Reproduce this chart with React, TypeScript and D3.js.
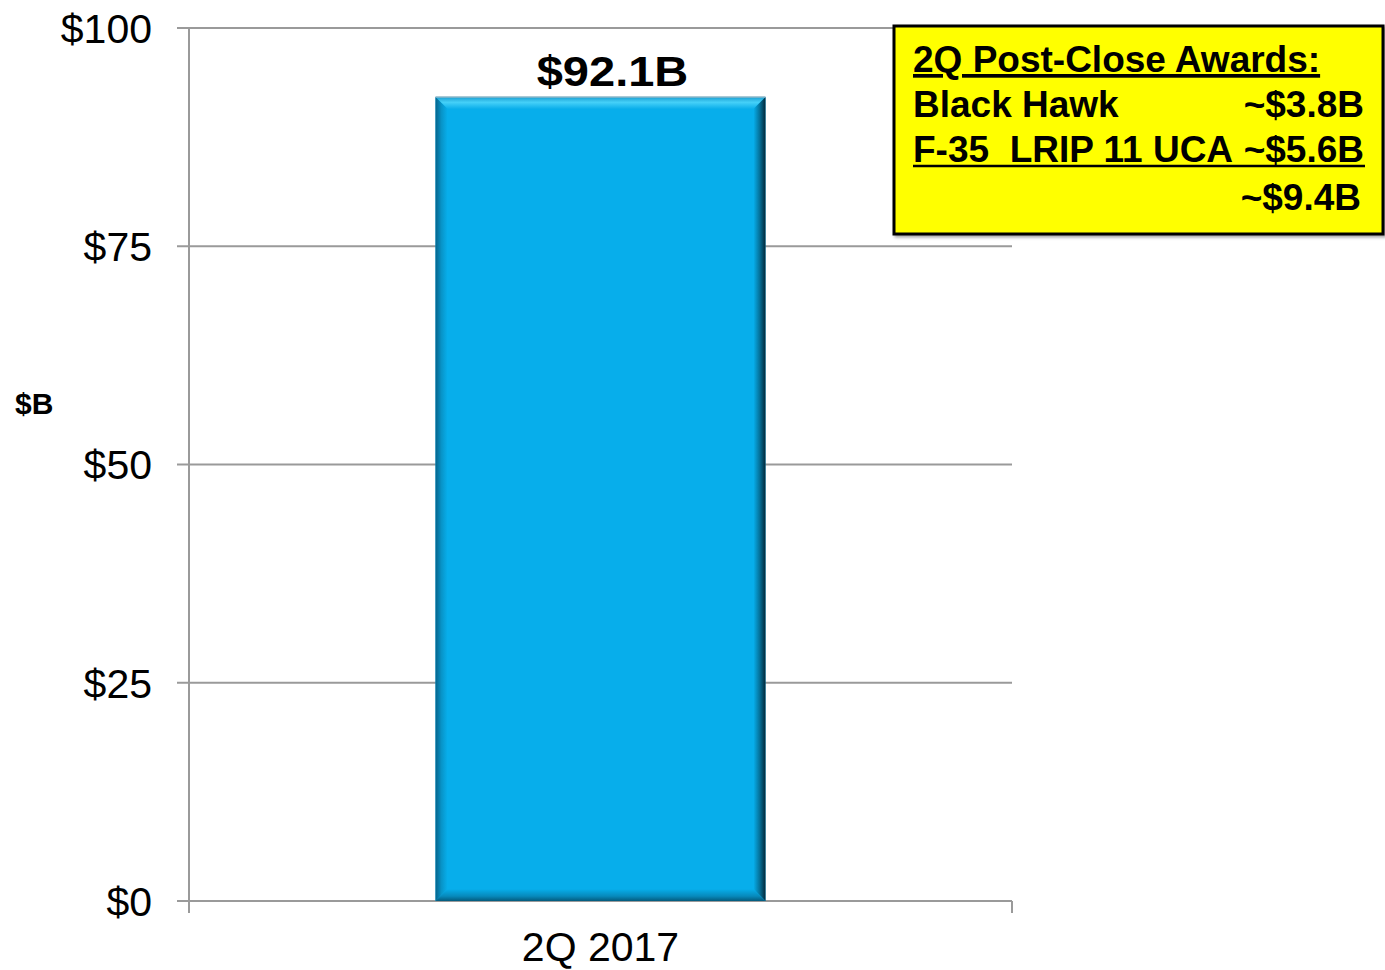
import React from "react";
import * as d3 from "d3";

const categories = ["2Q 2017"];
const values = [92.1];
const barLabels = ["$92.1B"];
const yTicks = [0, 25, 50, 75, 100];
const yTickLabels = ["$0", "$25", "$50", "$75", "$100"];
const boxTitle = "2Q Post-Close Awards:";
const boxItems = ["Black Hawk", "F-35  LRIP 11 UCA"];
const boxValues = ["~$3.8B", "~$5.6B"];
const boxTotal = "~$9.4B";

const W = 1385, H = 970;
const FONT = "'Liberation Sans', Arial, Helvetica, sans-serif";

export default function App() {
  const x0 = 189, x1 = 1012, yTop = 28, yBot = 901;
  const y = d3.scaleLinear().domain([0, 100]).range([yBot, yTop]);
  const x = d3.scaleBand().domain(categories).range([x0, x1]).paddingInner(0).paddingOuter(0.747);
  const bev = 12;
  return (
    <svg width={W} height={H} style={{ position: "absolute", left: 0, top: 0 }} fontFamily={FONT}>
      <defs>
        <filter id="sh" x="-10%" y="-10%" width="130%" height="130%">
          <feDropShadow dx="2" dy="2" stdDeviation="1.5" floodColor="#000" floodOpacity="0.35" />
        </filter>
        <linearGradient id="gTop" x1="0" y1="0" x2="0" y2="1">
          <stop offset="0" stopColor="#1b9fd2" />
          <stop offset="0.45" stopColor="#45d0f8" />
          <stop offset="1" stopColor="#0aaeea" />
        </linearGradient>
        <linearGradient id="gLeft" x1="0" y1="0" x2="1" y2="0">
          <stop offset="0" stopColor="#06648c" />
          <stop offset="0.5" stopColor="#0894c8" />
          <stop offset="1" stopColor="#07AEEB" />
        </linearGradient>
        <linearGradient id="gRight" x1="0" y1="0" x2="1" y2="0">
          <stop offset="0" stopColor="#07AEEB" />
          <stop offset="0.5" stopColor="#05739c" />
          <stop offset="1" stopColor="#02283a" />
        </linearGradient>
        <linearGradient id="gBot" x1="0" y1="0" x2="0" y2="1">
          <stop offset="0" stopColor="#07AEEB" />
          <stop offset="0.6" stopColor="#0789bb" />
          <stop offset="1" stopColor="#045a7c" />
        </linearGradient>
      </defs>
      {yTicks.map((t, i) => (
        <g key={t}>
          <line x1={177} x2={x1} y1={y(t)} y2={y(t)} stroke="#9a9a9a" strokeWidth={2} />
          <text x={152} y={y(t)} dy="0.36em" textAnchor="end" fontSize={41} fill="#000">{yTickLabels[i]}</text>
        </g>
      ))}
      <line x1={x0} x2={x0} y1={yTop} y2={yBot + 12} stroke="#9a9a9a" strokeWidth={2} />
      <line x1={x1} x2={x1} y1={yBot} y2={yBot + 12} stroke="#9a9a9a" strokeWidth={2} />
      <text x={15} y={403} dy="0.36em" fontSize={30} fontWeight="bold">$B</text>
      {categories.map((c, i) => {
        const bx = x(c)!, bw = x.bandwidth(), by = y(values[i]), bb = y(0);
        const cx = bx + bw / 2 + 12;
        return (
          <g key={c}>
            <rect x={bx} y={by} width={bw} height={bb - by} fill="#07AEEB" />
            <polygon points={`${bx},${by} ${bx + bw},${by} ${bx + bw - bev},${by + bev} ${bx + bev},${by + bev}`} fill="url(#gTop)" />
            <polygon points={`${bx},${by} ${bx + bev},${by + bev} ${bx + bev},${bb - bev} ${bx},${bb}`} fill="url(#gLeft)" />
            <polygon points={`${bx + bw},${by} ${bx + bw},${bb} ${bx + bw - bev},${bb - bev} ${bx + bw - bev},${by + bev}`} fill="url(#gRight)" />
            <polygon points={`${bx},${bb} ${bx + bw},${bb} ${bx + bw - bev},${bb - bev} ${bx + bev},${bb - bev}`} fill="url(#gBot)" />
            <line x1={bx} x2={bx + bw} y1={by} y2={by} stroke="#8fb7c8" strokeWidth={1.5} />
            <g transform={`translate(${cx},${by - 11}) scale(1.12,1)`}>
              <text x={0} y={0} textAnchor="middle" fontSize={42} fontWeight="bold">{barLabels[i]}</text>
            </g>
            <text x={bx + bw / 2} y={961} textAnchor="middle" fontSize={41}>{c}</text>
          </g>
        );
      })}
      <g>
        <rect x={894} y={26} width={489} height={208} fill="#ffff00" stroke="#000" strokeWidth={3} filter="url(#sh)" />
        <text x={913} y={72} fontSize={37} fontWeight="bold" textDecoration="underline">{boxTitle}</text>
        {boxItems.map((t, i) => (
          <g key={t}>
            <text x={913} y={117 + i * 45} fontSize={37} fontWeight="bold" style={{ whiteSpace: "pre" }}>{t}</text>
            <text x={1364} y={117 + i * 45} fontSize={37} fontWeight="bold" textAnchor="end">{boxValues[i]}</text>
          </g>
        ))}
        <line x1={913} x2={1365} y1={166} y2={166} stroke="#000" strokeWidth={2.5} />
        <text x={1361} y={210} fontSize={37} fontWeight="bold" textAnchor="end">{boxTotal}</text>
      </g>
    </svg>
  );
}
